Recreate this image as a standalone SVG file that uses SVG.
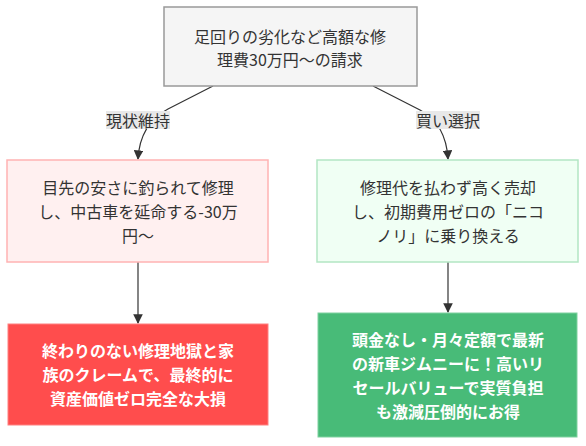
<svg xmlns="http://www.w3.org/2000/svg" width="586" height="446" viewBox="0 0 586 446">
<defs>
<style>
text{font-family:"Noto Sans CJK JP","Noto Sans",sans-serif;font-size:16px;text-anchor:middle;dominant-baseline:central;fill:#333}
.w{fill:#fff;font-weight:bold}
.edge{fill:none;stroke:#333;stroke-width:1.2}
.lbl{fill:#e8e8e8}
</style>
<marker id="arr" viewBox="0 0 10 10" refX="9" refY="5" markerWidth="8" markerHeight="8" orient="auto"><path d="M0,0L10,5L0,10z" fill="#333"/></marker>
</defs>
<rect width="586" height="446" fill="#fff"/>
<g id="edges">
<path class="edge" d="M213,86 L168,109 Q140,124 138,159" marker-end="url(#arr)"/>
<path class="edge" d="M373,86 L420,110 Q446,124 448,159" marker-end="url(#arr)"/>
<path class="edge" d="M138,262 L138,323" marker-end="url(#arr)"/>
<path class="edge" d="M448,262 L448,312" marker-end="url(#arr)"/>
<rect class="lbl" x="106" y="111" width="64" height="18"/>
<text x="138" y="120">現状維持</text>
<rect class="lbl" x="416" y="111" width="64" height="18"/>
<text x="448" y="120">買い選択</text>
</g>
<g id="top">
<rect x="164" y="7" width="253" height="79" fill="#f5f5f5" stroke="#999" stroke-width="1.5"/>
<text x="290" y="36">足回りの劣化など高額な修</text>
<text x="290" y="59">理費30万円〜の請求</text>
</g>
<g id="keep">
<rect x="7" y="160" width="261" height="102" fill="#fff0f0" stroke="#ffb3b3" stroke-width="1.5"/>
<text x="138" y="187">目先の安さに釣られて修理</text>
<text x="138" y="211">し、中古車を延命する-30万</text>
<text x="138" y="235">円〜</text>
</g>
<g id="sell">
<rect x="317" y="160" width="261" height="102" fill="#f0fff4" stroke="#b3e6c3" stroke-width="1.5"/>
<text x="448" y="187">修理代を払わず高く売却</text>
<text x="448" y="211">し、初期費用ゼロの「ニコ</text>
<text x="448" y="235">ノリ」に乗り換える</text>
</g>
<g id="bad">
<rect x="8" y="324" width="260" height="101" fill="#ff4d4d" stroke="#ff8080" stroke-width="1"/>
<text class="w" x="138" y="350">終わりのない修理地獄と家</text>
<text class="w" x="138" y="374">族のクレームで、最終的に</text>
<text class="w" x="138" y="398">資産価値ゼロ完全な大損</text>
</g>
<g id="good">
<rect x="318" y="313" width="259" height="124" fill="#48bb78" stroke="#7fd19f" stroke-width="1"/>
<text class="w" x="448" y="339">頭金なし・月々定額で最新</text>
<text class="w" x="448" y="363">の新車ジムニーに！高いリ</text>
<text class="w" x="448" y="387">セールバリューで実質負担</text>
<text class="w" x="448" y="411">も激減圧倒的にお得</text>
</g>
</svg>
